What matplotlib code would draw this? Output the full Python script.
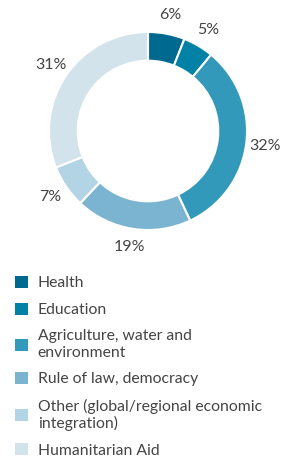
import matplotlib
matplotlib.use("Agg")
import matplotlib.pyplot as plt
from matplotlib.patches import Patch

categories = ["Health", "Education", "Agriculture, water and\nenvironment",
              "Rule of law, democracy",
              "Other (global/regional economic\nintegration)", "Humanitarian Aid"]
values = [6, 5, 32, 19, 7, 31]
colors = ["#00698f", "#0081a5", "#3399bb", "#7ab4d0", "#b3d4e4", "#d2e3ec"]
pct_labels = [f"{v}%" for v in values]

plt.rcParams['font.family'] = ['Lato', 'DejaVu Sans']
W, H = 302, 470
fig = plt.figure(figsize=(W / 100, H / 100), dpi=100)

R = 99.0
cx, cy = 148.0, 131.0
span = 3.0 * R
ax = fig.add_axes([(cx - span / 2) / W, (H - cy - span / 2) / H, span / W, span / H])
wedges, texts = ax.pie(values, colors=colors, startangle=90, counterclock=False,
                       labels=pct_labels, labeldistance=1.19,
                       wedgeprops=dict(width=0.29, edgecolor="white", linewidth=1.5),
                       textprops=dict(fontsize=11.5, color="#444444"))
for t in texts:
    t.set_ha("center")
    t.set_va("center")
ax.set_xlim(-1.5, 1.5)
ax.set_ylim(-1.5, 1.5)
ax.set_aspect("equal")
ax.axis("off")

handles = [Patch(facecolor=c, edgecolor="none") for c in colors]
fig.legend(handles, categories, loc="upper left",
           bbox_to_anchor=(15 / W, 1 - 276 / H), frameon=False,
           fontsize=11.3, labelcolor="#444444", handlelength=0.8, handleheight=0.8,
           handletextpad=0.65, labelspacing=0.78, borderaxespad=0, borderpad=0)

fig.savefig("out.png", dpi=100)
